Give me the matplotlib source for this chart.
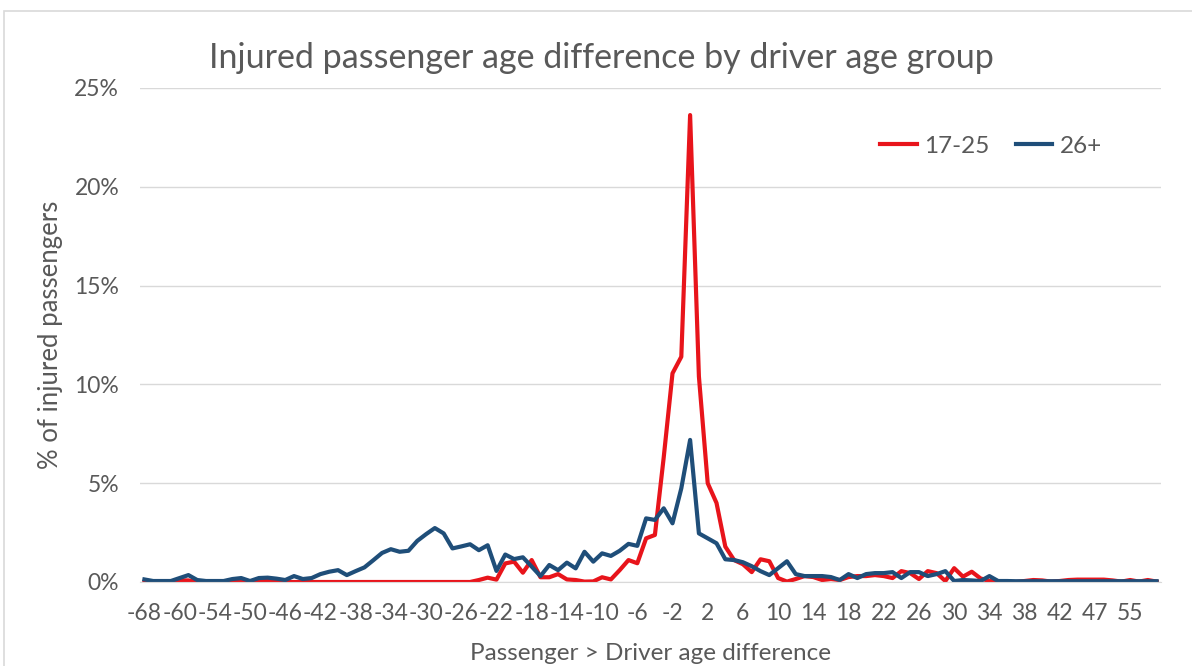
import matplotlib
matplotlib.use('Agg')
import matplotlib.pyplot as plt
from matplotlib.patches import Rectangle

# Age difference categories (passenger age minus driver age)
categories = [-68, -66, -64, -62, -60, -58, -57, -56, -54, -53, -52, -51] + \
    list(range(-50, 43)) + [43, 44, 45, 47, 48, 50, 52, 55, 56, 58, 61]

# % of injured passengers, driver aged 17-25
young = [0.0, 0.0, 0.0, 0.0, 0.08, 0.08, 0.0, 0.0, 0.0, 0.0, 0.1, 0.1,
         0.0, 0.1, 0.1, 0.1, 0.0, 0.0, 0.0, 0.0, 0.0, 0.0, 0.0, 0.0,
         0.0, 0.0, 0.0, 0.0, 0.0, 0.0, 0.0, 0.0, 0.0, 0.0, 0.0, 0.0,
         0.0, 0.0, 0.1, 0.22, 0.12, 0.94, 1.03, 0.47, 1.11, 0.24, 0.24, 0.4,
         0.13, 0.1, 0.02, 0.03, 0.24, 0.13, 0.6, 1.11, 0.95, 2.21, 2.38, 6.3,
         10.56, 11.4, 23.63, 10.4, 5.0, 4.0, 1.79, 1.11, 0.9, 0.5, 1.15, 1.05,
         0.2, 0.02, 0.15, 0.3, 0.25, 0.1, 0.15, 0.1, 0.25, 0.3, 0.3, 0.35,
         0.3, 0.2, 0.55, 0.45, 0.15, 0.55, 0.45, 0.05, 0.7, 0.27, 0.52, 0.18,
         0.05, 0.03, 0.02, 0.0, 0.05, 0.1, 0.08, 0.02, 0.05, 0.1, 0.12, 0.12,
         0.12, 0.12, 0.08, 0.02, 0.1, 0.02, 0.1, 0.02]

# % of injured passengers, driver aged 26+
older = [0.13, 0.05, 0.05, 0.05, 0.2, 0.35, 0.1, 0.05, 0.05, 0.05, 0.15, 0.2,
         0.05, 0.2, 0.22, 0.17, 0.1, 0.3, 0.15, 0.2, 0.4, 0.52, 0.6, 0.35,
         0.55, 0.74, 1.1, 1.47, 1.66, 1.53, 1.58, 2.08, 2.42, 2.73, 2.46, 1.7,
         1.8, 1.91, 1.61, 1.86, 0.56, 1.39, 1.16, 1.25, 0.78, 0.3, 0.86, 0.6,
         0.98, 0.69, 1.53, 1.03, 1.45, 1.32, 1.58, 1.93, 1.83, 3.22, 3.14, 3.73,
         2.97, 4.74, 7.19, 2.46, 2.21, 1.96, 1.15, 1.11, 1.0, 0.8, 0.55, 0.35,
         0.7, 1.05, 0.4, 0.3, 0.3, 0.3, 0.25, 0.1, 0.4, 0.2, 0.4, 0.45,
         0.45, 0.5, 0.2, 0.5, 0.5, 0.3, 0.4, 0.55, 0.05, 0.1, 0.08, 0.05,
         0.3, 0.05, 0.05, 0.04, 0.04, 0.04, 0.04, 0.04, 0.04, 0.04, 0.04, 0.04,
         0.04, 0.04, 0.04, 0.04, 0.04, 0.04, 0.04, 0.04]

plt.rcParams['font.family'] = ['Lato', 'DejaVu Sans']
grey = '#595959'

fig = plt.figure(figsize=(11.92, 6.66), dpi=100)
fig.patches.append(Rectangle((4 / 1192, -0.05), 1.1, 0.05 + (666 - 11) / 666,
                             transform=fig.transFigure, fill=False,
                             edgecolor='#D9D9D9', linewidth=1.2))

ax = fig.add_axes([140 / 1192, 84 / 666, 1021 / 1192, 494 / 666])
x = list(range(len(categories)))
ax.plot(x, young, color='#E8141B', linewidth=3.0, label='17-25', solid_joinstyle='round')
ax.plot(x, older, color='#1F4E79', linewidth=3.0, label='26+', solid_joinstyle='round')

ax.set_xlim(-0.5, len(categories) - 0.5)
ax.set_ylim(0, 25)
ax.set_yticks([0, 5, 10, 15, 20, 25])
ax.set_yticklabels([f'{v}%' for v in [0, 5, 10, 15, 20, 25]])
ax.set_xticks(x[::4])
ax.set_xticklabels([str(c) for c in categories[::4]])
ax.tick_params(length=0, labelsize=16.5, colors=grey)
ax.tick_params(axis='x', pad=15)
ax.tick_params(axis='y', pad=15)
ax.grid(axis='y', color='#D9D9D9', linewidth=1)
ax.set_axisbelow(True)
for s in ['top', 'right', 'left']:
    ax.spines[s].set_visible(False)
ax.spines['bottom'].set_color('#D9D9D9')

ax.set_xlabel('Passenger > Driver age difference', fontsize=17.5, color=grey, labelpad=14)
ax.set_ylabel('% of injured passengers', fontsize=18.5, color=grey, labelpad=8)
fig.text(0.5046, 0.913, 'Injured passenger age difference by driver age group',
         ha='center', va='center', fontsize=24.5, color=grey)

ax.legend(loc='center right', bbox_to_anchor=(1102 / 1192, 1 - 146 / 666),
          bbox_transform=fig.transFigure, borderaxespad=0, borderpad=0,
          ncol=2, frameon=False, fontsize=17.5, handlelength=1.52,
          handletextpad=0.3, columnspacing=1.07, labelcolor=grey)

fig.savefig('out.png', dpi=100)
